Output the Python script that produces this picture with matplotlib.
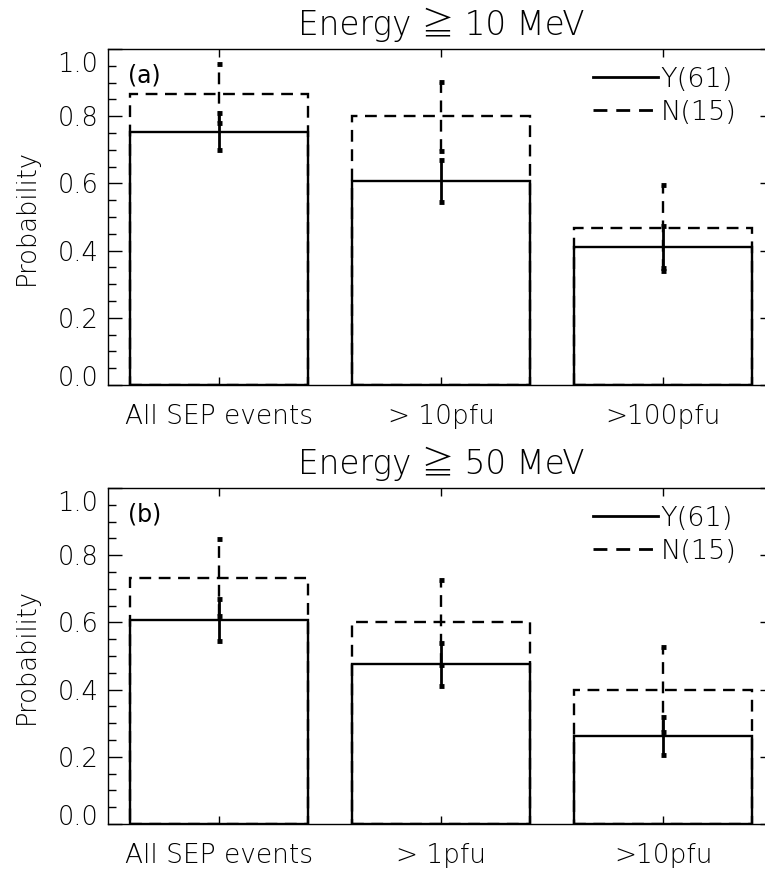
import numpy as np
import matplotlib
matplotlib.use('Agg')
import matplotlib.pyplot as plt
from matplotlib.ticker import MultipleLocator
import matplotlib.transforms as mtransforms

plt.rcParams['font.family'] = ['DejaVu Sans', 'Noto Sans CJK JP']
plt.rcParams['font.weight'] = 'light'
plt.rcParams['axes.titleweight'] = 'light'
plt.rcParams['axes.labelweight'] = 'light'

# panel (a): Energy >= 10 MeV
cats_a = ['All SEP events', '> 10pfu', '>100pfu']
yes_a = [0.754, 0.607, 0.410]
yes_a_err = [0.055, 0.063, 0.063]
no_a = [0.867, 0.800, 0.467]
no_a_err = [0.088, 0.103, 0.129]

# panel (b): Energy >= 50 MeV
cats_b = ['All SEP events', '> 1pfu', '>10pfu']
yes_b = [0.607, 0.475, 0.262]
yes_b_err = [0.063, 0.064, 0.056]
no_b = [0.733, 0.600, 0.400]
no_b_err = [0.114, 0.126, 0.126]

titles = ['Energy \u2267 10 MeV', 'Energy \u2267 50 MeV']
tags = ['(a)', '(b)']
legend_labels = ['Y(61)', 'N(15)']
ytick_vals = [0.0, 0.2, 0.4, 0.6, 0.8, 1.0]
ytick_text = ['0.0', '0.2', '0.4', '0.6', '0.8', '1.0']

dash = (0, (5, 3.2))
lw = 1.7

fig = plt.figure(figsize=(7.65, 8.72), dpi=100)
ax_a = fig.add_axes([0.1412, 0.5585, 0.8706, 0.3853])
ax_b = fig.add_axes([0.1412, 0.0550, 0.8706, 0.3853])

panels = [(ax_a, cats_a, yes_a, yes_a_err, no_a, no_a_err),
          (ax_b, cats_b, yes_b, yes_b_err, no_b, no_b_err)]

for i, (ax, cats, ys, ys_err, ns, ns_err) in enumerate(panels):
    x = np.arange(len(cats))
    ax.bar(x, ns, width=0.8, fill=False, edgecolor='black', linewidth=lw,
           linestyle=dash, zorder=2)
    ax.bar(x, ys, width=0.8, fill=False, edgecolor='black', linewidth=lw,
           zorder=3)
    e1 = ax.errorbar(x, ns, yerr=ns_err, fmt='none', ecolor='black',
                     elinewidth=lw, capsize=1.8, capthick=3.5, zorder=4)
    for lc in e1[2]:
        lc.set_linestyle(dash)
    ax.errorbar(x, ys, yerr=ys_err, fmt='none', ecolor='black',
                elinewidth=lw + 0.3, capsize=1.8, capthick=3.5, zorder=5)

    # legend handles
    ax.plot([], [], color='black', lw=lw + 0.3, label=legend_labels[0])
    ax.plot([], [], color='black', lw=lw + 0.3, linestyle=dash, label=legend_labels[1])
    ax.legend(loc='upper right', bbox_to_anchor=(0.96, 0.98), frameon=False,
              fontsize=19.5, handlelength=2.4, handletextpad=0.1,
              labelspacing=0.3, borderaxespad=0)

    ax.set_xlim(-0.5, 2.5)
    ax.set_ylim(0, 1.0)
    ax.set_xticks(x)
    ax.set_xticklabels(cats, fontsize=19)
    ax.set_yticks(ytick_vals)
    ax.set_yticklabels(ytick_text, fontsize=18.5)
    ax.yaxis.set_minor_locator(MultipleLocator(0.05))
    ax.tick_params(axis='x', which='major', direction='in', length=6,
                   width=1, top=True, bottom=True, pad=14)
    ax.tick_params(axis='y', which='major', direction='in', length=10,
                   width=1, left=True, right=True, pad=7)
    ax.tick_params(axis='y', which='minor', direction='in', length=5.5,
                   width=1, left=True, right=False)
    for s in ax.spines.values():
        s.set_linewidth(1.0)

    ax.set_ylabel('Probability', fontsize=18.5, labelpad=13)
    ax.set_title(titles[i], fontsize=23.5, pad=10)
    ax.text(0.03, 0.92, tags[i], transform=ax.transAxes, fontsize=17,
            fontweight='normal', ha='left', va='center')

    # shift the end labels inward like the original
    labs = ax.get_yticklabels()
    labs[0].set_transform(labs[0].get_transform() +
                          mtransforms.ScaledTranslation(0, 9 / 100, fig.dpi_scale_trans))
    labs[-1].set_transform(labs[-1].get_transform() +
                           mtransforms.ScaledTranslation(0, -13 / 100, fig.dpi_scale_trans))

fig.savefig('out.png', dpi=100)
